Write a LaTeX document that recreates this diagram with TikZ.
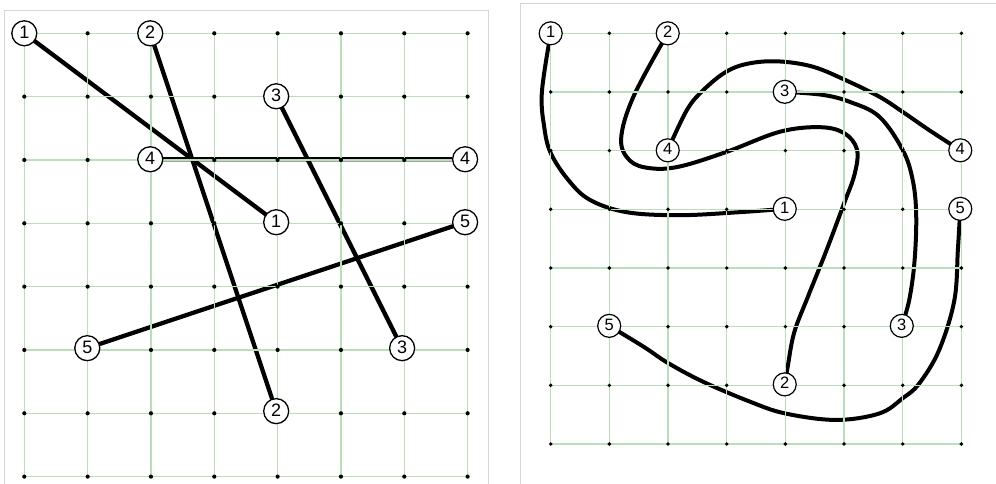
\documentclass[tikz,border=0pt]{standalone}
\usepackage{fontspec}
\setmainfont{Liberation Sans}
\definecolor{gridgreen}{RGB}{186,222,186}
\definecolor{framegray}{RGB}{214,214,214}
\tikzset{
  gridline/.style={draw=gridgreen, line width=1.5pt},
  framebox/.style={draw=framegray, line width=1pt},
  lspot/.style={circle, minimum size=25pt, inner sep=0pt},
  rspot/.style={circle, minimum size=23pt, inner sep=0pt},
  lnode/.style={lspot, draw=black, line width=1.3pt, fill=white, text depth=2.6pt, font=\fontsize{18}{18}\selectfont},
  rnode/.style={rspot, draw=black, line width=1.2pt, fill=white, text depth=2.4pt, font=\fontsize{16.5}{16.5}\selectfont},
  ledge/.style={draw=black, line width=4.3pt},
  redge/.style={draw=black, line width=4pt, smooth, tension=0.6},
}
\begin{document}
\begin{tikzpicture}[x=1pt,y=-1pt]
\useasboundingbox (0,0) rectangle (996,484);
\clip (0,0) rectangle (996,484);
\fill[white] (0,0) rectangle (996,484);
\draw[framebox] (4,11) rectangle (488,530);
\draw[framebox] (520.7,3.5) rectangle (1030,530);

% ---------- left panel ----------
\begin{scope}[shift={(24.3,33.3)}, scale=63.33]
  \node[lspot] (L1a) at (0,0) {};
  \node[lspot] (L1b) at (4,3) {};
  \node[lspot] (L2a) at (2,0) {};
  \node[lspot] (L2b) at (4,6) {};
  \node[lspot] (L3a) at (4,1) {};
  \node[lspot] (L3b) at (6,5) {};
  \node[lspot] (L4a) at (2,2) {};
  \node[lspot] (L4b) at (7,2) {};
  \node[lspot] (L5a) at (1,5) {};
  \node[lspot] (L5b) at (7,3) {};
  \draw[ledge] (L1a) -- (L1b);
  \draw[ledge] (L2a) -- (L2b);
  \draw[ledge] (L3a) -- (L3b);
  \draw[ledge] (L4a) -- (L4b);
  \draw[ledge] (L5a) -- (L5b);
  \foreach \i in {0,...,7} {
    \draw[gridline] (\i,0) -- (\i,7);
    \draw[gridline] (0,\i) -- (7,\i);
  }
  \foreach \i in {0,...,7} \foreach \j in {0,...,7}
    \fill (\i,\j) circle[radius=0.033];
  \node[lnode] (L1aT) at (L1a) {1};
  \node[lnode] (L1bT) at (L1b) {1};
  \node[lnode] (L2aT) at (L2a) {2};
  \node[lnode] (L2bT) at (L2b) {2};
  \node[lnode] (L3aT) at (L3a) {3};
  \node[lnode] (L3bT) at (L3b) {3};
  \node[lnode] (L4aT) at (L4a) {4};
  \node[lnode] (L4bT) at (L4b) {4};
  \node[lnode] (L5aT) at (L5a) {5};
  \node[lnode] (L5bT) at (L5b) {5};
\end{scope}

% ---------- right panel ----------
\begin{scope}[shift={(550.7,33.3)}, scale=58.67]
  \node[rspot] (R1a) at (0,0) {};
  \node[rspot] (R1b) at (4,3) {};
  \node[rspot] (R2a) at (2,0) {};
  \node[rspot] (R2b) at (4,6) {};
  \node[rspot] (R3a) at (4,1) {};
  \node[rspot] (R3b) at (6,5) {};
  \node[rspot] (R4a) at (2,2) {};
  \node[rspot] (R4b) at (7,2) {};
  \node[rspot] (R5a) at (1,5) {};
  \node[rspot] (R5b) at (7,3) {};
  \draw[redge] plot coordinates {(R1a.center) (-0.15,1.0) (-0.11,1.6) (0,2.04) (0.3,2.5) (0.67,2.84) (1.3,3.05) (2.2,3.1) (3.2,3.05) (R1b.center)};
  \draw[redge] plot coordinates {(R2a.center) (1.41,1.08) (1.2,1.8) (1.35,2.17) (1.7,2.3) (2.2,2.27) (3.0,2.02) (3.9,1.68) (4.58,1.60) (5.0,1.70) (5.22,1.98) (5.18,2.4) (5.0,2.9) (4.7,3.7) (4.38,4.5) (4.15,5.1) (4.04,5.68) (R2b.center)};
  \draw[redge] plot coordinates {(R3a.center) (4.64,1.05) (5.1,1.17) (5.6,1.42) (6.0,1.99) (6.17,2.5) (6.23,3.1) (6.2,3.9) (6.11,4.55) (R3b.center)};
  \draw[redge] plot coordinates {(R4a.center) (2.32,1.31) (2.6,0.97) (3.0,0.65) (3.4,0.51) (3.9,0.48) (4.47,0.57) (5.03,0.80) (5.6,1.08) (6.0,1.34) (6.45,1.65) (R4b.center)};
  \draw[redge] plot coordinates {(R5a.center) (1.58,5.34) (2.0,5.62) (2.6,5.94) (3.4,6.28) (4.0,6.48) (4.86,6.59) (5.6,6.48) (6.0,6.22) (6.28,5.97) (6.62,5.40) (6.88,4.55) (6.94,3.69) (R5b.center)};
  \foreach \i in {0,...,7} {
    \draw[gridline] (\i,0) -- (\i,7);
    \draw[gridline] (0,\i) -- (7,\i);
  }
  \foreach \i in {0,...,7} \foreach \j in {0,...,7}
    \fill (\i,\j) circle[radius=0.033];
  \node[rnode] (R1aT) at (R1a) {1};
  \node[rnode] (R1bT) at (R1b) {1};
  \node[rnode] (R2aT) at (R2a) {2};
  \node[rnode] (R2bT) at (R2b) {2};
  \node[rnode] (R3aT) at (R3a) {3};
  \node[rnode] (R3bT) at (R3b) {3};
  \node[rnode] (R4aT) at (R4a) {4};
  \node[rnode] (R4bT) at (R4b) {4};
  \node[rnode] (R5aT) at (R5a) {5};
  \node[rnode] (R5bT) at (R5b) {5};
\end{scope}
\end{tikzpicture}
\end{document}
